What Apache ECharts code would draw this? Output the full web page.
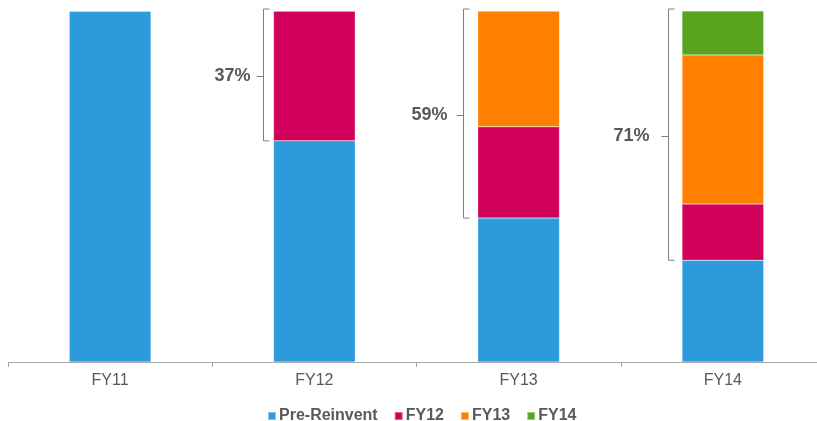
<!DOCTYPE html>
<html>
<head>
<meta charset="utf-8">
<script src="https://cdn.jsdelivr.net/npm/echarts@6/dist/echarts.min.js"></script>
<style>
  html, body { margin: 0; padding: 0; background: #fff; }
  #chart { width: 817px; height: 421px; }
</style>
</head>
<body>
<div id="chart"></div>
<script>
// categories and stacked shares (%)
var categories = ["FY11", "FY12", "FY13", "FY14"];
var preReinvent = [100, 63, 41, 29];
var fy12 = [0, 37, 26, 16];
var fy13 = [0, 0, 33, 42.5];
var fy14 = [0, 0, 0, 12.5];
// brackets: [category index, from value, to value, label]
var brackets = [
  [1, 63, 100, "37%"],
  [2, 41, 100, "59%"],
  [3, 29, 100, "71%"]
];

var font = "'Liberation Sans', Arial, sans-serif";
var grey = "#595959";
// distance of each bracket from its bar, and of its label from the bracket (px)
var bracketGap = [11, 15, 14];
var labelGap = [13, 16, 19];

function barSeries(name, data, color) {
  return {
    name: name,
    type: "bar",
    stack: "total",
    barWidth: "40%",
    data: data,
    itemStyle: { color: color, borderColor: "rgba(255,255,255,0.4)", borderWidth: 0.5 },
    silent: true
  };
}

var myChart = echarts.init(document.getElementById("chart"));
var option = {
  animation: false,
  textStyle: { fontFamily: font },
  grid: { left: 8, width: 817, top: 11, bottom: 59, containLabel: false, outerBoundsMode: "none" },
  legend: {
    data: ["Pre-Reinvent", "FY12", "FY13", "FY14"],
    top: 403,
    left: 262,
    itemWidth: 8,
    itemHeight: 8,
    itemGap: 16,
    icon: "rect",
    textStyle: { fontFamily: font, fontSize: 16, fontWeight: "bold", color: grey, padding: [0, 0, 0, -2] }
  },
  xAxis: {
    type: "category",
    data: categories,
    axisLine: { lineStyle: { color: "#a6a6a6", width: 1 } },
    axisTick: { show: true, length: 5, lineStyle: { color: "#a6a6a6" } },
    axisLabel: { color: grey, fontSize: 16, fontFamily: font, margin: 11 }
  },
  yAxis: { type: "value", min: 0, max: 100, show: false, splitLine: { show: false } },
  series: [
    barSeries("Pre-Reinvent", preReinvent, "#2D9ADB"),
    barSeries("FY12", fy12, "#D1005B"),
    barSeries("FY13", fy13, "#FF7F00"),
    barSeries("FY14", fy14, "#57A51E"),
    {
      type: "custom",
      silent: true,
      data: brackets,
      encode: { x: 0, y: [1, 2] },
      renderItem: function (params, api) {
        var i = params.dataIndex;
        var bot = api.coord([api.value(0), api.value(1)]);
        var top = api.coord([api.value(0), api.value(2)]);
        var band = api.size([1, 0])[0];
        var x = Math.round(bot[0] - band * 0.2 - bracketGap[i]) + 0.5;
        var y1 = top[1] - 2, y2 = bot[1];
        var ym = Math.round((y1 + y2) / 2) + 1.5;
        var ls = { stroke: "#7f7f7f", lineWidth: 1, fill: null };
        return {
          type: "group",
          children: [
            { type: "polyline", shape: { points: [[x + 6, y1], [x, y1], [x, y2], [x + 6, y2]] }, style: ls },
            { type: "line", shape: { x1: x - 7, y1: ym, x2: x, y2: ym }, style: ls },
            {
              type: "text",
              style: {
                x: x - labelGap[i], y: ym,
                text: brackets[i][3],
                textAlign: "right", textVerticalAlign: "middle",
                font: "bold 18px " + font, fill: grey
              }
            }
          ]
        };
      }
    }
  ]
};
myChart.setOption(option);
</script>
</body>
</html>
